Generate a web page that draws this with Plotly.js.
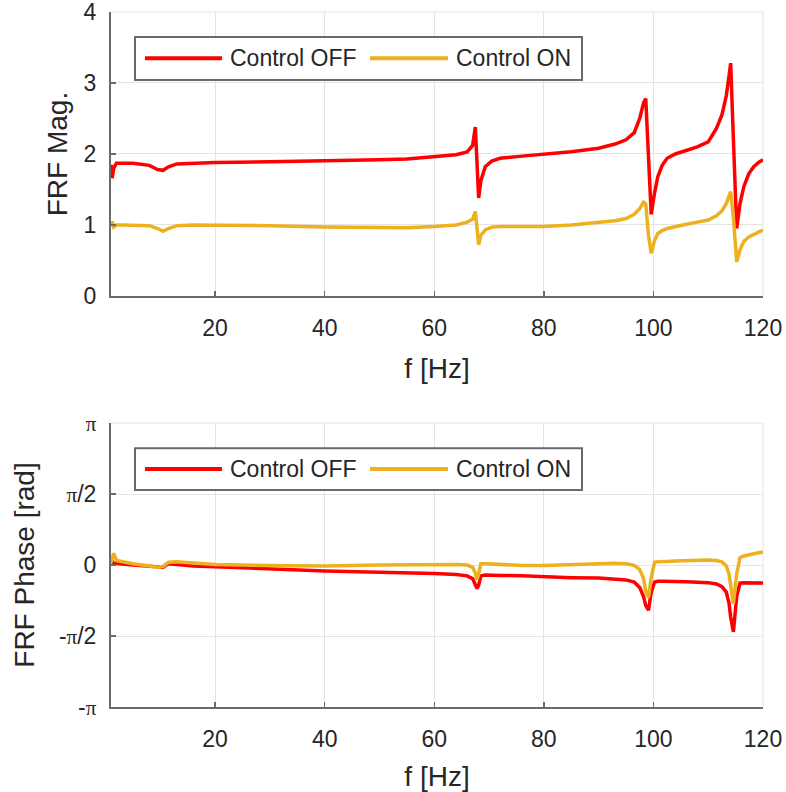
<!DOCTYPE html>
<html>
<head>
<meta charset="utf-8">
<script src="https://cdn.plot.ly/plotly-3.0.1.min.js"></script>
<style>html,body{margin:0;padding:0;background:#fff;}</style>
</head>
<body>
<div id="chart" style="width:786px;height:792px;"></div>
<script>
// Frequency grid [Hz]
var freq = [1, 1.2, 1.5, 2, 3, 5, 8, 9.5, 10.5, 11.5, 13, 16, 20, 30, 40, 50, 55, 60, 64, 66,
  67, 67.5, 67.8, 68.1, 68.5, 69.3, 70.5, 72, 76, 80, 85, 90, 93, 95, 96.5, 97.5, 98.2, 98.6,
  99.1, 99.6, 100.2, 100.8, 101.6, 102.5, 104, 106, 108, 110, 111.5, 112.5, 113.3, 113.8,
  114.1, 114.6, 115.2, 115.8, 116.5, 117.4, 118.3, 119.2, 120];

// FRF magnitude
var magOff = [1.85, 1.66, 1.80, 1.87, 1.87, 1.87, 1.84, 1.78, 1.77, 1.82, 1.86, 1.87, 1.88, 1.89, 1.90, 1.92, 1.93, 1.96, 1.99, 2.03,
  2.12, 2.38, 1.90, 1.38, 1.62, 1.82, 1.90, 1.94, 1.97, 2.00, 2.03, 2.08, 2.14, 2.20, 2.30, 2.50, 2.72, 2.78,
  2.00, 1.15, 1.45, 1.68, 1.84, 1.94, 2.00, 2.05, 2.10, 2.17, 2.36, 2.55, 2.82, 3.10,
  3.28, 2.20, 0.95, 1.30, 1.54, 1.72, 1.82, 1.88, 1.92];
var magOn = [0.98, 1.05, 0.97, 1.00, 1.00, 1.00, 0.99, 0.95, 0.91, 0.95, 0.99, 1.00, 1.00, 0.99, 0.97, 0.97, 0.96, 0.98, 1.00, 1.04,
  1.08, 1.19, 0.95, 0.72, 0.85, 0.93, 0.97, 0.98, 0.98, 0.98, 1.00, 1.03, 1.06, 1.09, 1.15, 1.23, 1.32, 1.30,
  0.85, 0.60, 0.78, 0.88, 0.92, 0.95, 0.98, 1.01, 1.04, 1.07, 1.13, 1.20, 1.30, 1.42,
  1.47, 1.10, 0.48, 0.65, 0.77, 0.83, 0.87, 0.90, 0.93];

// FRF phase [rad]
var phaseOff = [0.05, 0.08, 0.04, 0.03, 0.02, 0.00, -0.03, -0.05, -0.05, 0.03, 0.01, -0.02, -0.04, -0.09, -0.13, -0.16, -0.17, -0.19, -0.21, -0.24,
  -0.30, -0.42, -0.52, -0.45, -0.24, -0.22, -0.22, -0.23, -0.24, -0.26, -0.28, -0.29, -0.31, -0.33, -0.38, -0.50, -0.70, -0.90,
  -1.00, -0.60, -0.38, -0.36, -0.36, -0.36, -0.37, -0.37, -0.38, -0.39, -0.42, -0.48, -0.60, -0.85,
  -1.15, -1.48, -0.70, -0.40, -0.39, -0.39, -0.40, -0.40, -0.40];
var phaseOn = [0.05, 0.15, 0.26, 0.10, 0.07, 0.03, -0.02, -0.05, -0.03, 0.06, 0.07, 0.04, 0.01, -0.01, -0.02, 0.00, 0.01, 0.015, 0.01, 0.00,
  -0.05, -0.18, -0.33, -0.20, 0.03, 0.03, 0.02, 0.01, -0.01, -0.01, 0.01, 0.04, 0.04, 0.03, -0.01, -0.10, -0.30, -0.58,
  -0.72, -0.28, 0.06, 0.07, 0.08, 0.08, 0.09, 0.10, 0.10, 0.11, 0.10, 0.07, -0.02, -0.20,
  -0.45, -0.86, -0.20, 0.16, 0.20, 0.23, 0.25, 0.27, 0.29];

var seriesNames = ['Control OFF', 'Control ON'];
var seriesColors = ['#ff0000', '#edb120'];
var xTicks = [20, 40, 60, 80, 100, 120];
var magTicks = [0, 1, 2, 3, 4];
var PI = Math.PI;
var phaseTicks = [-PI, -PI / 2, 0, PI / 2, PI];
var piSym = '<span style="font-family:\'Liberation Serif\';font-size:21px">π</span>';
var phaseTickText = ['-' + piSym, '-' + piSym + '/2', '0', piSym + '/2', piSym];

var axisCol = '#6a6a6a';
var gridCol = '#e4e4e4';
var txtCol = '#262626';
var FONT = 'Liberation Sans, Arial, sans-serif';

function tr(x, y, i, xa, ya) {
  return {x: x, y: y, type: 'scatter', mode: 'lines', name: seriesNames[i],
    xaxis: xa, yaxis: ya, showlegend: false,
    line: {color: seriesColors[i], width: 3.5}};
}

var data = [
  tr(freq, magOff, 0, 'x', 'y'),
  tr(freq, magOn, 1, 'x', 'y'),
  tr(freq, phaseOff, 0, 'x2', 'y2'),
  tr(freq, phaseOn, 1, 'x2', 'y2')
];

function xAxis(anchor) {
  return {anchor: anchor, domain: [0, 1], range: [1, 120], tickvals: xTicks,
    ticks: 'inside', ticklen: 5, tickwidth: 1.5, tickcolor: axisCol,
    showline: true, linecolor: axisCol, linewidth: 2, mirror: false,
    showgrid: true, gridcolor: gridCol, gridwidth: 1, zeroline: false,
    ticklabeloverflow: 'allow',
    tickfont: {family: FONT, size: 23, color: txtCol}, ticklabelstandoff: 10,
    title: {text: 'f [Hz]', font: {family: FONT, size: 28, color: txtCol}, standoff: 19}};
}
function yAxis(anchor, domain, range, standoff, title) {
  return {anchor: anchor, domain: domain, range: range,
    ticks: 'inside', ticklen: 5, tickwidth: 1.5, tickcolor: axisCol,
    showline: true, linecolor: axisCol, linewidth: 2,
    showgrid: true, gridcolor: gridCol, zeroline: false,
    ticklabeloverflow: 'allow',
    tickfont: {family: FONT, size: 23, color: txtCol}, ticklabelstandoff: 8,
    title: {text: title, font: {family: FONT, size: 28, color: txtCol}, standoff: standoff}};
}

// light box edges on top/right of each axes (grid lines at range ends)
function boxEdges(xr, yr) {
  return [
    {type: 'line', xref: xr + ' domain', yref: yr + ' domain', x0: 0, x1: 1, y0: 1, y1: 1,
      line: {color: gridCol, width: 1}, layer: 'below'},
    {type: 'line', xref: xr + ' domain', yref: yr + ' domain', x0: 1, x1: 1, y0: 0, y1: 1,
      line: {color: gridCol, width: 1}, layer: 'below'}
  ];
}

// custom legend boxes (legend drawn with long line samples)
function legendShapes(yb, yt, yl) {
  return [
    {type: 'rect', xref: 'paper', yref: 'paper', x0: 0.0368, x1: 0.7224, y0: yb, y1: yt,
      fillcolor: '#ffffff', line: {color: axisCol, width: 2}, layer: 'above'},
    {type: 'line', xref: 'paper', yref: 'paper', x0: 0.0521, x1: 0.1702, y0: yl, y1: yl,
      line: {color: seriesColors[0], width: 4}, layer: 'above'},
    {type: 'line', xref: 'paper', yref: 'paper', x0: 0.3972, x1: 0.5169, y0: yl, y1: yl,
      line: {color: seriesColors[1], width: 4}, layer: 'above'}
  ];
}
function legendText(yl) {
  return [
    {xref: 'paper', yref: 'paper', x: 0.1794, y: yl, xanchor: 'left', yanchor: 'middle',
      text: seriesNames[0], showarrow: false, font: {family: FONT, size: 23, color: txtCol}},
    {xref: 'paper', yref: 'paper', x: 0.5261, y: yl, xanchor: 'left', yanchor: 'middle',
      text: seriesNames[1], showarrow: false, font: {family: FONT, size: 23, color: txtCol}}
  ];
}

var yMag = yAxis('x', [0.5914, 1], [0, 4], 8, 'FRF Mag.');
yMag.tickvals = magTicks;
var yPh = yAxis('x2', [0, 0.4086], [-PI, PI], 16, 'FRF Phase [rad]');
yPh.tickvals = phaseTicks;
yPh.ticktext = phaseTickText;

var layout = {
  width: 786, height: 792,
  margin: {l: 111, r: 23, t: 12, b: 85},
  paper_bgcolor: '#ffffff', plot_bgcolor: '#ffffff',
  showlegend: false,
  xaxis: xAxis('y'),
  xaxis2: xAxis('y2'),
  yaxis: yMag,
  yaxis2: yPh,
  shapes: boxEdges('x', 'y').concat(boxEdges('x2', 'y2'))
    .concat(legendShapes(0.9022, 0.9640, 0.9334)).concat(legendShapes(0.3122, 0.3722, 0.3424)),
  annotations: legendText(0.9334).concat(legendText(0.3424))
};

Plotly.newPlot('chart', data, layout, {staticPlot: true, displayModeBar: false});
</script>
</body>
</html>
